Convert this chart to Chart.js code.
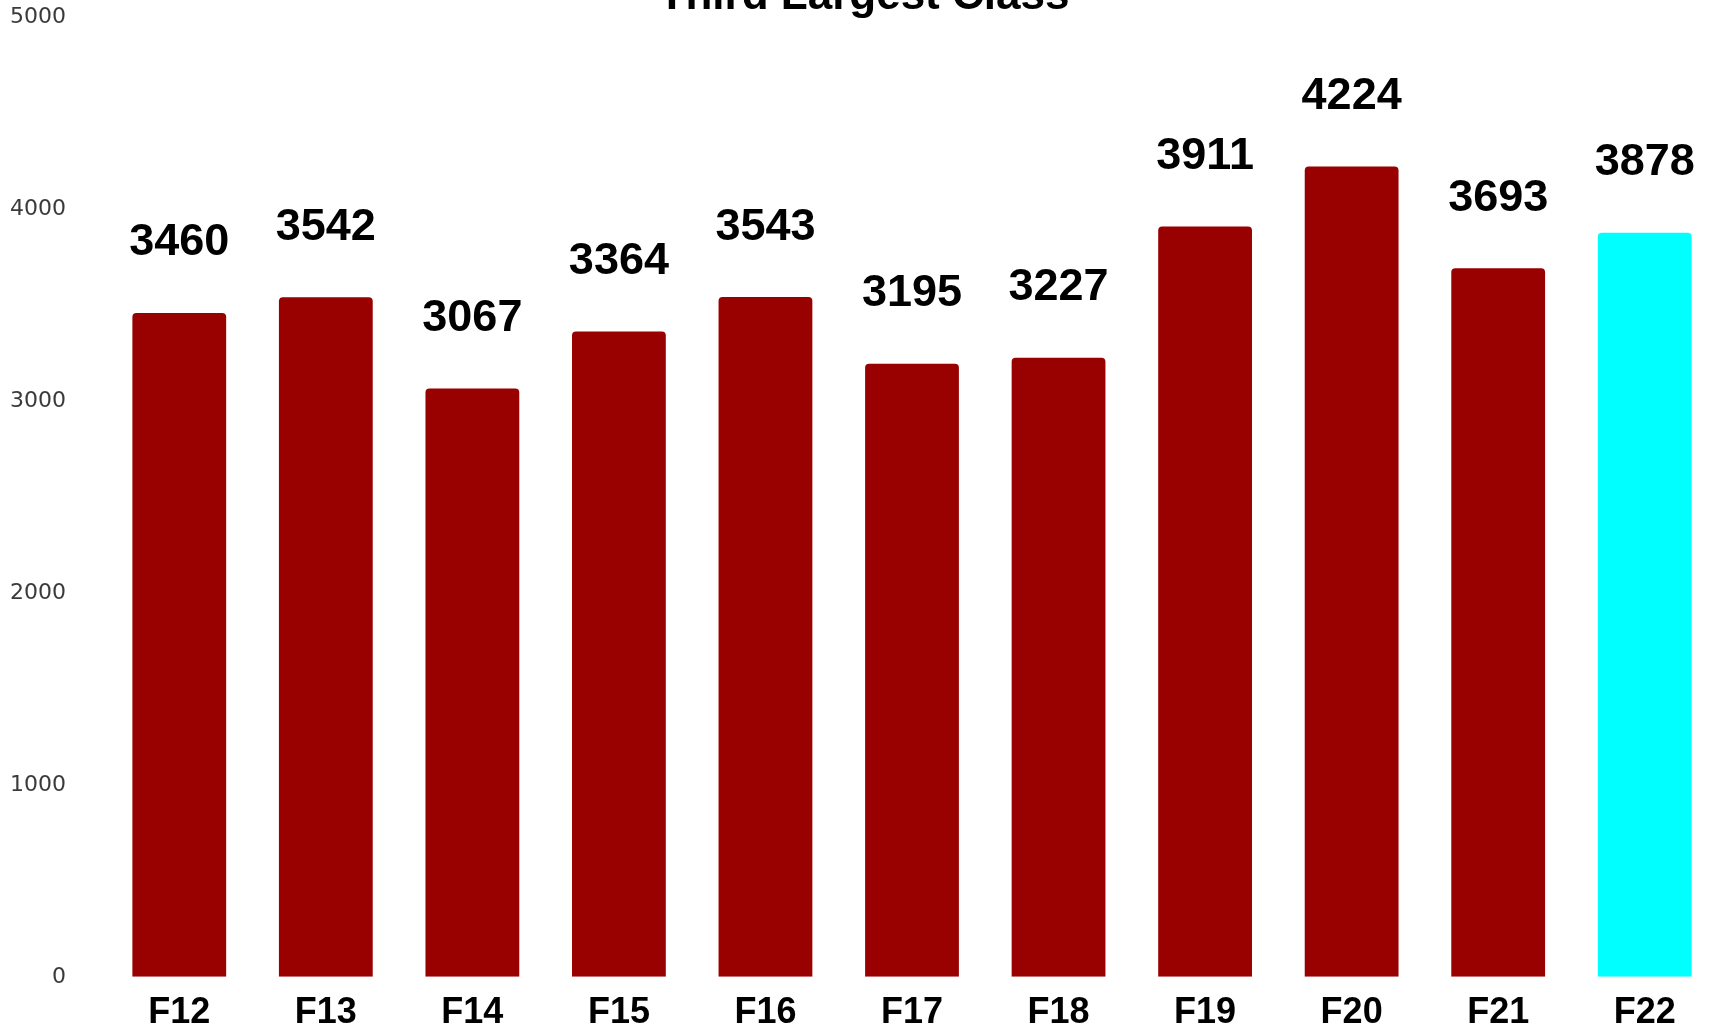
<!DOCTYPE html>
<html>
<head>
<meta charset="utf-8">
<script src="https://cdn.jsdelivr.net/npm/chart.js@4.4.1/dist/chart.umd.min.js"></script>
<style>
  html, body { margin: 0; padding: 0; background: #fff; overflow: hidden; width: 1712px; height: 1027px; }
  #wrap { position: absolute; left: 0; top: -40px; width: 1720px; height: 1090px; }
</style>
</head>
<body>
<div id="wrap"><canvas id="c" width="1720" height="1090"></canvas></div>
<script>
const categories = ["F12", "F13", "F14", "F15", "F16", "F17", "F18", "F19", "F20", "F21", "F22"];
const values = [3460, 3542, 3067, 3364, 3543, 3195, 3227, 3911, 4224, 3693, 3878];
const barColors = ["#990000", "#990000", "#990000", "#990000", "#990000", "#990000", "#990000", "#990000", "#990000", "#990000", "#00FFFF"];
const yTicks = [0, 1000, 2000, 3000, 4000, 5000];
const titleText = "Third Largest Class";

const valueLabels = {
  id: 'valueLabels',
  afterDatasetsDraw(chart) {
    const ctx = chart.ctx;
    const meta = chart.getDatasetMeta(0);
    ctx.save();
    ctx.font = "bold 45px 'Liberation Sans', Arial, sans-serif";
    ctx.fillStyle = "#000";
    ctx.textAlign = "center";
    ctx.textBaseline = "middle";
    meta.data.forEach((bar, i) => {
      ctx.fillText(String(values[i]), bar.x, bar.y - 70);
    });
    ctx.restore();
  }
};

new Chart(document.getElementById('c'), {
  type: 'bar',
  data: {
    labels: categories,
    datasets: [{
      data: values,
      backgroundColor: barColors,
      borderRadius: { topLeft: 4, topRight: 4, bottomLeft: 0, bottomRight: 0 },
      borderSkipped: 'bottom',
      barPercentage: 0.64,
      categoryPercentage: 1.0
    }]
  },
  options: {
    responsive: false,
    animation: false,
    devicePixelRatio: 1,
    layout: { padding: { left: 10, right: 2, top: 0, bottom: 0 } },
    plugins: {
      legend: { display: false },
      tooltip: { enabled: false },
      title: {
        display: true,
        text: titleText,
        color: '#000',
        font: { family: "'Liberation Sans', Arial, sans-serif", size: 44, weight: 'bold', lineHeight: 0.9 },
        padding: { top: 17, bottom: 1 }
      }
    },
    scales: {
      x: {
        grid: { display: false, drawTicks: false },
        border: { display: false },
        ticks: {
          color: '#000',
          padding: 15,
          font: { family: "'Liberation Sans', Arial, sans-serif", size: 36, weight: 'bold', lineHeight: 1.2 }
        }
      },
      y: {
        min: yTicks[0],
        max: yTicks[yTicks.length - 1],
        afterBuildTicks(scale) { scale.ticks = yTicks.map(v => ({ value: v })); },
        afterFit(scale) { scale.width = 96; },
        grid: { display: false, drawTicks: false },
        border: { display: false },
        ticks: {
          color: '#3a3a3a',
          padding: 40,
          callback: (v) => String(v),
          font: { family: "'DejaVu Sans', sans-serif", size: 22, lineHeight: 1.2 }
        }
      }
    }
  },
  plugins: [valueLabels]
});
</script>
</body>
</html>
